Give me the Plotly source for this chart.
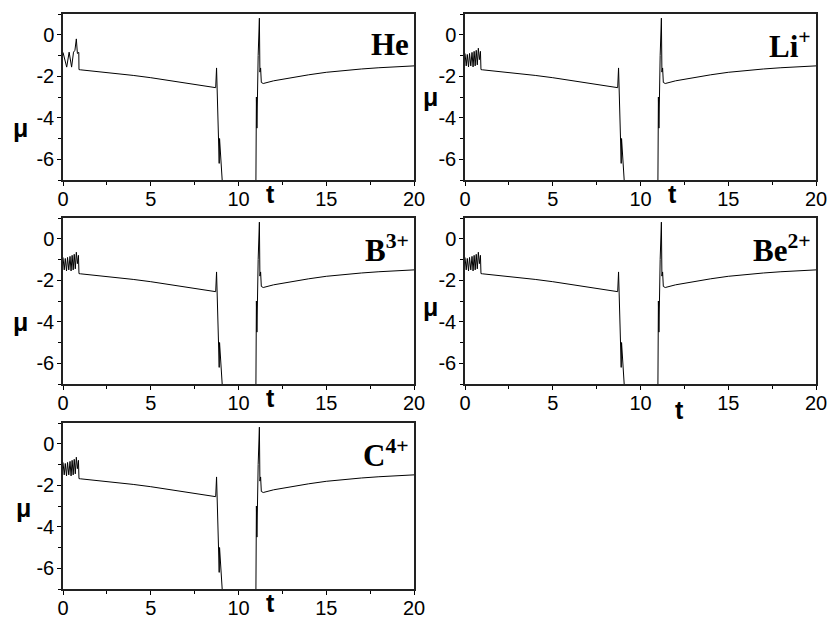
import plotly.graph_objects as go

W, H = 833, 618

ions = ["He", "Li<sup>+</sup>", "B<sup>3+</sup>", "Be<sup>2+</sup>", "C<sup>4+</sup>"]

# early oscillation (t < 0.9)
osc_t_he = [0.0, 0.1, 0.21, 0.35, 0.49, 0.6, 0.68, 0.76, 0.82, 0.9, 0.91]
osc_mu_he = [-0.85, -1.2, -1.56, -0.84, -1.56, -0.84, -0.75, -0.2, -0.9, -0.85, -1.68]
osc_t_ion = [0.0, 0.07, 0.13, 0.2, 0.26, 0.33, 0.4, 0.46, 0.52, 0.58, 0.64, 0.7, 0.76, 0.82, 0.88, 0.91]
osc_mu_ion = [-0.9, -1.5, -0.95, -1.55, -0.9, -1.5, -0.85, -1.55, -0.8, -1.5, -0.75, -1.45, -0.65, -1.2, -0.8, -1.68]

# common body of the curve
body_t = [1.0, 2.0, 3.0, 4.0, 5.0, 6.0, 7.0, 7.8, 8.7, 8.75, 8.79, 8.86, 8.9, 8.92, 9.1,
          None,
          10.99, 11.02, 11.05, 11.12, 11.19, 11.22, 11.26, 11.3, 11.41,
          12.0, 13.0, 14.0, 15.0, 16.0, 17.0, 18.0, 19.0, 20.0]
body_mu = [-1.69, -1.77, -1.86, -1.96, -2.07, -2.2, -2.33, -2.45, -2.55, -1.6, -2.7, -4.3, -6.2, -5.0, -7.4,
           None,
           -7.4, -3.0, -4.5, -1.0, 0.8, -1.8, -1.6, -2.3, -2.35,
           -2.22, -2.07, -1.93, -1.81, -1.72, -1.65, -1.59, -1.54, -1.5]

x_ticks = [0, 5, 10, 15, 20]
x_labels = ["0", "5", "10", "15", "20"]
y_ticks = [0, -2, -4, -6]
y_labels = ["0", "-2", "-4", "-6"]

# panel pixel boxes: (x0, x1, y0, y1) top-down pixels
boxes = [(63, 414, 14, 180), (465, 816, 14, 180), (63, 414, 218, 384),
         (465, 816, 218, 384), (63, 414, 423, 589)]
mu_y = [-4.5, -3.0, -4.0, -3.3, -3.1]
mu_dx = [-43, -35, -43, -35, -40]

fig = go.Figure()
axis_font = dict(family="Liberation Sans, Arial", size=20, color="black")

for i, (ion, box) in enumerate(zip(ions, boxes)):
    n = i + 1
    xa = "x" if n == 1 else f"x{n}"
    ya = "y" if n == 1 else f"y{n}"
    ot, om = (osc_t_he, osc_mu_he) if i == 0 else (osc_t_ion, osc_mu_ion)
    fig.add_trace(go.Scatter(x=ot + body_t, y=om + body_mu, mode="lines",
                             line=dict(color="black", width=1), xaxis=xa, yaxis=ya,
                             connectgaps=False, showlegend=False, hoverinfo="skip"))
    x0, x1, y0, y1 = box
    common = dict(showline=True, mirror=True, linecolor="#222", linewidth=1.5,
                  ticks="outside", ticklen=4, tickwidth=1, tickcolor="black",
                  showgrid=False, zeroline=False, tickfont=axis_font, automargin=False,
                  minor=dict(ticks="outside", ticklen=3, tickcolor="black"))
    fig.layout[f"xaxis{'' if n == 1 else n}"] = dict(
        domain=[x0 / W, x1 / W], range=[0, 20], anchor=ya, ticklabelstandoff=-4,
        tickvals=x_ticks, ticktext=x_labels, minor_dtick=2.5, minor_tick0=0, **common)
    fig.layout[f"yaxis{'' if n == 1 else n}"] = dict(
        domain=[1 - y1 / H, 1 - y0 / H], range=[-7, 1], anchor=xa, ticklabelstandoff=-1,
        tickvals=y_ticks, ticktext=y_labels, minor_dtick=1, minor_tick0=0, **common)
    # ion label
    fig.add_annotation(x=(x1 - 3) / W, y=1 - (y0 + 30) / H, xref="paper", yref="paper",
                       text=f"<b>{ion}</b>", showarrow=False, xanchor="right", yanchor="middle",
                       font=dict(family="Liberation Serif, Times New Roman", size=31, color="black"))
    # mu label
    fig.add_annotation(x=(x0 + mu_dx[i]) / W, y=mu_y[i], xref="paper", yref=ya,
                       text="<b>μ</b>", showarrow=False, xanchor="center", yanchor="middle",
                       font=dict(family="Liberation Sans, Arial", size=25, color="black"))
    # t label
    if n == 4:
        fig.add_annotation(x=12.2, y=1 - (y1 + 26) / H, xref=xa, yref="paper",
                           text="<b>t</b>", showarrow=False, xanchor="center", yanchor="middle",
                           font=dict(family="Liberation Sans, Arial", size=25, color="black"))
    else:
        fig.add_annotation(x=11.8, y=1 - (y1 + 14) / H, xref=xa, yref="paper",
                           text="<b>t</b>", showarrow=False, xanchor="center", yanchor="middle",
                           font=dict(family="Liberation Sans, Arial", size=25, color="black"))

fig.update_layout(width=W, height=H, margin=dict(l=0, r=0, t=0, b=0),
                  paper_bgcolor="white", plot_bgcolor="white")
fig.write_html("out.html", config={"displayModeBar": False},
               post_script="document.body.style.margin='0';document.body.style.overflow='hidden';")
